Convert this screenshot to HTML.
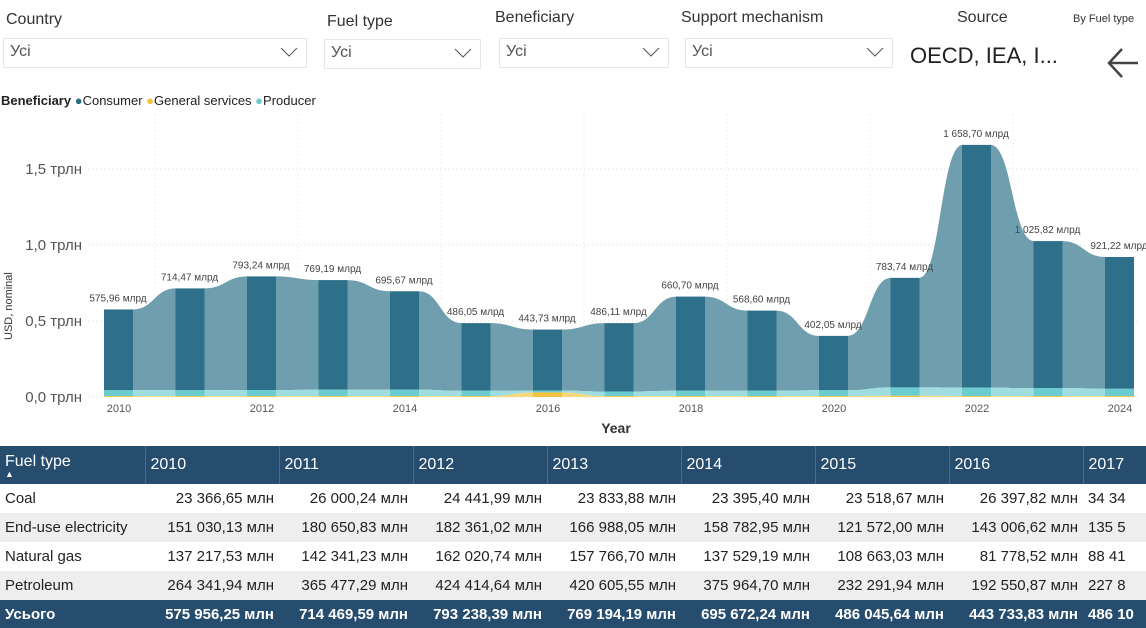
<!DOCTYPE html>
<html><head><meta charset="utf-8"><style>
body{margin:0;width:1146px;height:628px;overflow:hidden;background:#fff;font-family:"Segoe UI","Liberation Sans","DejaVu Sans",sans-serif;position:relative}
.lbl{position:absolute;font-size:16px;color:#333}
.dd{position:absolute;height:30px;border:1px solid #e6e6e6;box-sizing:border-box;font-size:16px;color:#555;padding:4px 6px}
.dd svg{position:absolute;right:8px;top:8px}
table{position:absolute;left:0;top:446px;border-collapse:collapse;table-layout:fixed;width:1146px;font-size:15px}
td,th{white-space:nowrap;overflow:hidden;padding:0 5px;text-align:right;color:#222}
th{background:#264d6e;color:#fff;font-weight:normal;text-align:left;height:38px;font-size:16px;border-left:1px solid #4a6c8a}
td{height:29px}
td:first-child{text-align:left}
tr.alt td{background:#eeeeee}
tr.tot td{background:#264d6e;color:#fff;font-weight:bold;height:28px}
</style></head><body>
<div class="lbl" style="left:6px;top:11px">Country</div>
<div class="dd" style="left:3px;top:38px;width:304px">Усі<svg width="18" height="10"><path d="M1 1 L9 9 L17 1" stroke="#555" fill="none"/></svg></div>
<div class="lbl" style="left:327px;top:13px">Fuel type</div>
<div class="dd" style="left:324px;top:39px;width:157px">Усі<svg width="18" height="10"><path d="M1 1 L9 9 L17 1" stroke="#555" fill="none"/></svg></div>
<div class="lbl" style="left:495px;top:9px">Beneficiary</div>
<div class="dd" style="left:499px;top:38px;width:170px">Усі<svg width="18" height="10"><path d="M1 1 L9 9 L17 1" stroke="#555" fill="none"/></svg></div>
<div class="lbl" style="left:681px;top:9px">Support mechanism</div>
<div class="dd" style="left:685px;top:38px;width:208px">Усі<svg width="18" height="10"><path d="M1 1 L9 9 L17 1" stroke="#555" fill="none"/></svg></div>
<div class="lbl" style="left:957px;top:9px">Source</div>
<div class="lbl" style="left:910px;top:43px;font-size:22px;color:#222">OECD, IEA, I...</div>
<div class="lbl" style="left:1073px;top:13px;font-size:11px">By Fuel type</div>
<svg style="position:absolute;left:1106px;top:46px" width="34" height="34"><path d="M32 17 H3 M16 3 L3 17 L16 31" stroke="#444" stroke-width="2.5" fill="none"/></svg>
<div style="position:absolute;left:1px;top:93px;font-size:13px;color:#222">
<b>Beneficiary</b> <span style="color:#2e6f8c">●</span>Consumer <span style="color:#f5c242">●</span>General services <span style="color:#6ccdd0">●</span>Producer</div>
<svg id="ch" style="position:absolute;left:0;top:110px" width="1146" height="335"></svg>
<table>
<colgroup><col style="width:145px"><col style="width:134px"><col style="width:134px"><col style="width:134px"><col style="width:134px"><col style="width:134px"><col style="width:134px"><col style="width:134px"><col style="width:63px"></colgroup>
<tr><th style="border-left:none">Fuel type<br><span style="font-size:9px;line-height:6px;display:block">▲</span></th><th>2010</th><th>2011</th><th>2012</th><th>2013</th><th>2014</th><th>2015</th><th>2016</th><th>2017</th></tr>
<tr><td>Coal</td><td>23 366,65 млн</td><td>26 000,24 млн</td><td>24 441,99 млн</td><td>23 833,88 млн</td><td>23 395,40 млн</td><td>23 518,67 млн</td><td>26 397,82 млн</td><td style="text-align:left">34 34</td></tr>
<tr class="alt"><td>End-use electricity</td><td>151 030,13 млн</td><td>180 650,83 млн</td><td>182 361,02 млн</td><td>166 988,05 млн</td><td>158 782,95 млн</td><td>121 572,00 млн</td><td>143 006,62 млн</td><td style="text-align:left">135 5</td></tr>
<tr><td>Natural gas</td><td>137 217,53 млн</td><td>142 341,23 млн</td><td>162 020,74 млн</td><td>157 766,70 млн</td><td>137 529,19 млн</td><td>108 663,03 млн</td><td>81 778,52 млн</td><td style="text-align:left">88 41</td></tr>
<tr class="alt"><td>Petroleum</td><td>264 341,94 млн</td><td>365 477,29 млн</td><td>424 414,64 млн</td><td>420 605,55 млн</td><td>375 964,70 млн</td><td>232 291,94 млн</td><td>192 550,87 млн</td><td style="text-align:left">227 8</td></tr>
<tr class="tot"><td>Усього</td><td>575 956,25 млн</td><td>714 469,59 млн</td><td>793 238,39 млн</td><td>769 194,19 млн</td><td>695 672,24 млн</td><td>486 045,64 млн</td><td>443 733,83 млн</td><td style="text-align:left">486 10</td></tr>
</table>
<script>
const years=[2010,2011,2012,2013,2014,2015,2016,2017,2018,2019,2020,2021,2022,2023,2024];
const totals=[575.96,714.47,793.24,769.19,695.67,486.05,443.73,486.11,660.70,568.60,402.05,783.74,1658.70,1025.82,921.22];
const totalLabels=["575,96 млрд","714,47 млрд","793,24 млрд","769,19 млрд","695,67 млрд","486,05 млрд","443,73 млрд","486,11 млрд","660,70 млрд","568,60 млрд","402,05 млрд","783,74 млрд","1 658,70 млрд","1 025,82 млрд","921,22 млрд"];
const producer=[38,38,40,42,42,35,12,30,35,35,38,55,55,52,48];
const general=[6,6,6,6,6,6,30,6,6,6,6,8,6,6,6];
const yTicks=[0,0.5,1,1.5];
const yTickLabels=["0,0 трлн","0,5 трлн","1,0 трлн","1,5 трлн"];
const xTicks=[2010,2012,2014,2016,2018,2020,2022,2024];
const svg=document.getElementById('ch');const NS='http://www.w3.org/2000/svg';
const X=y=>119+(y-2010)*71.5, Y=v=>287-v*152/1000, BW=29;
function mk(t,a,p){const e=document.createElementNS(NS,t);for(const k in a)e.setAttribute(k,a[k]);(p||svg).appendChild(e);return e;}
yTicks.forEach((t,i)=>{const l=mk('line',{x1:88,x2:1140,y1:Y(t*1000),y2:Y(t*1000),stroke:'#ddd','stroke-dasharray':'1,3'});
const tx=mk('text',{x:82,y:Y(t*1000)+5,'text-anchor':'end','font-size':15,fill:'#555'});tx.textContent=yTickLabels[i];});
for(let k=0;k<8;k++){mk('line',{x1:X(2010)+k*143+36,x2:X(2010)+k*143+36,y1:5,y2:287,stroke:'#e6e6e6','stroke-dasharray':'1,3'});}
xTicks.forEach(t=>{const tx=mk('text',{x:X(t),y:302,'text-anchor':'middle','font-size':11,fill:'#555'});tx.textContent=t;});
const yt=mk('text',{x:616,y:323,'text-anchor':'middle','font-size':14,fill:'#333','font-weight':'bold'});yt.textContent='Year';
const ya=mk('text',{transform:'translate(12,230) rotate(-90)','font-size':11,fill:'#333'});ya.textContent='USD, nominal';
const consumer=totals.map((t,i)=>t-producer[i]-general[i]);
const layers=[{v:general,b:years.map(()=>0),c:'#f5c242',r:'#f7d77c'},{v:producer,b:general,c:'#6ccdd0',r:'#9fdde0'},{v:consumer,b:general.map((g,i)=>g+producer[i]),c:'#2e7089',r:'#6f9fae'}];
const ribbonG=mk('g',{}),barG=mk('g',{});
[2,1,0].forEach(li=>{const L=layers[li];
for(let i=0;i<years.length-1;i++){const x1=X(years[i])-15+BW,x2=X(years[i+1])-15,m=(x1+x2)/2;
const t1=Y(L.b[i]+L.v[i]),t2=Y(L.b[i+1]+L.v[i+1]),b1=Y(L.b[i]),b2=Y(L.b[i+1]);
const p=mk('path',{d:`M${x1-0.5},${t1} C${m},${t1} ${m},${t2} ${x2+0.5},${t2} L${x2+0.5},${b2} C${m},${b2} ${m},${b1} ${x1-0.5},${b1}Z`,fill:L.r},ribbonG);}
years.forEach((y,i)=>{const r=mk('rect',{x:X(y)-15,y:Y(L.b[i]+L.v[i]),width:BW,height:Y(L.b[i])-Y(L.b[i]+L.v[i]),fill:L.c},barG);});});
years.forEach((y,i)=>{const tx=mk('text',{x:X(y)-1,y:Y(totals[i])-8,'text-anchor':'middle','font-size':10,fill:'#444'});tx.textContent=totalLabels[i];});
</script>
</body></html>
